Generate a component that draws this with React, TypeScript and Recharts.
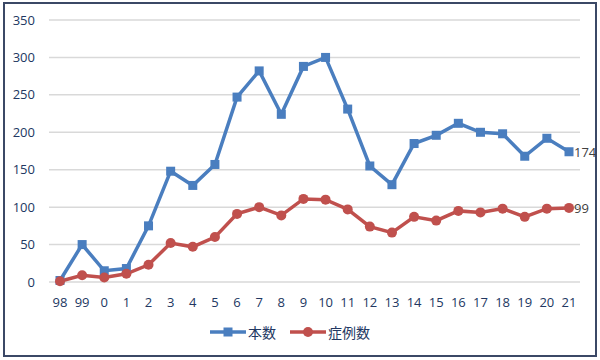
import React from "react";
import { LineChart, Line, XAxis, YAxis, CartesianGrid, Legend, LabelList } from "recharts";

const YEARS = ["98", "99", "0", "1", "2", "3", "4", "5", "6", "7", "8", "9", "10", "11", "12", "13", "14", "15", "16", "17", "18", "19", "20", "21"];
const HONSU = [2, 50, 15, 18, 75, 148, 129, 157, 247, 282, 224, 288, 300, 231, 155, 130, 185, 196, 212, 200, 198, 168, 192, 174];
const SHOREI = [1, 9, 6, 11, 23, 52, 47, 60, 91, 100, 89, 111, 110, 97, 74, 66, 87, 82, 95, 93, 98, 87, 98, 99];
const Y_TICKS = [0, 50, 100, 150, 200, 250, 300, 350];

const BLUE = "#4a7ebf";
const RED = "#c0504d";
const TEXT = "#223762";
const FONT = "'Open Sans', 'Noto Sans CJK JP', sans-serif";

const data = YEARS.map((year, i) => ({ year, honsu: HONSU[i], shorei: SHOREI[i] }));
const last = YEARS.length - 1;

function SquareDot(props: any) {
  const { cx, cy } = props;
  if (cx == null || cy == null) return null;
  return <rect x={cx - 4.5} y={cy - 4.5} width={9} height={9} fill={BLUE} />;
}

function RoundDot(props: any) {
  const { cx, cy } = props;
  if (cx == null || cy == null) return null;
  return <circle cx={cx} cy={cy} r={5} fill={RED} />;
}

function EndLabel(props: any) {
  const { x, y, value, index } = props;
  if (index !== last) return null;
  return (
    <text x={x + 5} y={y + 5} fontSize={13} fill="#404040" fontFamily={FONT}>
      {value}
    </text>
  );
}

function CustomLegend() {
  const item = (label: string, color: string, marker: React.ReactNode) => (
    <div style={{ display: "flex", alignItems: "center", margin: "0 7px" }}>
      <svg width={36} height={12}>
        <line x1={0} y1={6} x2={36} y2={6} stroke={color} strokeWidth={3.5} />
        {marker}
      </svg>
      <span style={{ fontSize: 14, color: TEXT, marginLeft: 2, fontFamily: FONT }}>{label}</span>
    </div>
  );
  return (
    <div style={{ display: "flex", justifyContent: "center", alignItems: "center", paddingTop: 10 }}>
      {item("本数", BLUE, <rect x={13.5} y={1.5} width={9} height={9} fill={BLUE} />)}
      {item("症例数", RED, <circle cx={18} cy={6} r={5} fill={RED} />)}
    </div>
  );
}

export default function App() {
  return (
    <div style={{ position: "absolute", left: 0, top: 0, width: 600, height: 360, background: "#fff" }}>
      <div
        style={{
          position: "absolute",
          left: 3,
          top: 2,
          width: 594,
          height: 355,
          border: "2px solid #3b4866",
          boxSizing: "border-box",
        }}
      />
      <div style={{ position: "absolute", left: 0, top: 0 }}>
        <LineChart width={600} height={360} data={data} margin={{ top: 20, right: 20, bottom: 12, left: 0 }}>
          <CartesianGrid vertical={false} stroke="#d9d9d9" strokeWidth={1.5} />
          <XAxis
            dataKey="year"
            axisLine={false}
            tickLine={false}
            height={30}
            padding={{ left: 11, right: 11 }}
            tick={{ fontSize: 13, fill: TEXT, fontFamily: FONT }}
            tickMargin={10}
            interval={0}
          />
          <YAxis
            domain={[0, 350]}
            ticks={Y_TICKS}
            axisLine={false}
            tickLine={false}
            width={49}
            tickMargin={8}
            tick={{ fontSize: 13, fill: TEXT, fontFamily: FONT }}
          />
          <Legend verticalAlign="bottom" height={36} content={<CustomLegend />} />
          <Line
            dataKey="honsu"
            name="本数"
            stroke={BLUE}
            strokeWidth={3.5}
            dot={<SquareDot />}
            activeDot={false}
            isAnimationActive={false}
          >
            <LabelList dataKey="honsu" content={<EndLabel />} />
          </Line>
          <Line
            dataKey="shorei"
            name="症例数"
            stroke={RED}
            strokeWidth={3.5}
            dot={<RoundDot />}
            activeDot={false}
            isAnimationActive={false}
          >
            <LabelList dataKey="shorei" content={<EndLabel />} />
          </Line>
        </LineChart>
      </div>
    </div>
  );
}
